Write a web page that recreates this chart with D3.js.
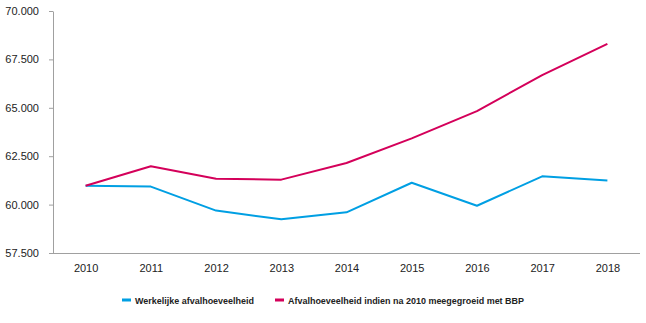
<!DOCTYPE html>
<html><head><meta charset="utf-8">
<script src="https://cdn.jsdelivr.net/npm/d3@7/dist/d3.min.js"></script>
<style>body{margin:0;background:#fff}svg{display:block;font-family:"Liberation Sans",Arial,sans-serif}</style>
</head><body><svg id="c" width="646" height="323"></svg>
<script>
const years = [2010,2011,2012,2013,2014,2015,2016,2017,2018];
const werkelijk = [60.97,60.93,59.69,59.24,59.60,61.13,59.94,61.46,61.25];
const bbp = [60.97,61.98,61.34,61.29,62.15,63.42,64.83,66.69,68.30];
const yTicks = [57.5,60,62.5,65,67.5,70];
const seriesNames = ["Werkelijke afvalhoeveelheid","Afvalhoeveelheid indien na 2010 meegegroeid met BBP"];
const colors = ["#009fe3","#d4005a"];

const svg = d3.select("#c");
const L=53, R=640, T=11, B=253;
const x = d3.scalePoint().domain(years).range([L,R]).padding(0.5);
const y = d3.scaleLinear().domain([57.5,70]).range([B,T]);

const ya = svg.append("g").attr("transform",`translate(${L},0)`)
  .call(d3.axisLeft(y).tickValues(yTicks).tickSize(4).tickSizeOuter(0).tickFormat(d=>d3.format(".3f")(d)).tickPadding(10));
ya.select(".domain").attr("stroke","#a0a0a0");
ya.selectAll(".tick line").attr("stroke","#a0a0a0");
ya.selectAll("text").attr("font-size",11).attr("fill","#222");

const xa = svg.append("g").attr("transform",`translate(0,${B})`)
  .call(d3.axisBottom(x).tickSize(0).tickPadding(11).tickFormat(d=>String(d)));
xa.select(".domain").attr("stroke","#a0a0a0").attr("d",`M${L},0.5H${R}`);
xa.selectAll("text").attr("font-size",11).attr("fill","#222");

const line = d3.line().x((d,i)=>x(years[i])).y(d=>y(d));
[werkelijk,bbp].forEach((s,k)=>{
  svg.append("path").datum(s).attr("d",line).attr("fill","none")
    .attr("stroke",colors[k]).attr("stroke-width",2).attr("stroke-linejoin","round");
});

const legX = [122,275];
const legW = [119,236];
seriesNames.forEach((n,k)=>{
  const g = svg.append("g").attr("transform",`translate(${legX[k]},300)`);
  g.append("rect").attr("x",0).attr("y",-1.5).attr("width",9).attr("height",3).attr("fill",colors[k]);
  g.append("text").attr("x",13).attr("y",3.5).attr("font-size",9.5).attr("font-weight","bold").attr("fill","#222")
    .attr("textLength",legW[k]).attr("lengthAdjust","spacingAndGlyphs").text(n);
});
</script></body></html>
